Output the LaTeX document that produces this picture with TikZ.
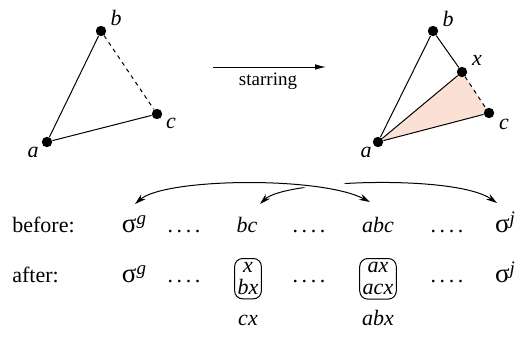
\documentclass[tikz,border=0pt]{standalone}
\usepackage{fontspec}
\setmainfont{Liberation Serif}
\usetikzlibrary{arrows.meta}
\definecolor{salmon}{RGB}{251,225,212}
\newcommand\sigsup[1]{{\fontsize{13.5}{14}\selectfont σ}\raisebox{4pt}{\fontsize{9.5}{10}\selectfont\itshape #1}}
\newcommand\fourdots{.\hspace{1.8pt}.\hspace{1.8pt}.\hspace{1.8pt}.}
\begin{document}
\begin{tikzpicture}[x=0.5pt,y=-0.5pt,
  dot/.style={circle,fill=black,inner sep=0pt,minimum size=5.2pt},
  lbl/.style={font=\fontsize{11}{13}\selectfont\itshape,inner sep=0pt},
  edge/.style={line width=0.5pt},
  dashededge/.style={line width=0.5pt,dash pattern=on 2pt off 2pt},
  txt/.style={font=\fontsize{11}{13}\selectfont,inner sep=0pt,anchor=base},
  itxt/.style={font=\fontsize{11}{13}\selectfont\itshape,inner sep=0pt,anchor=base},
  stackbox/.style={draw,rounded corners=4pt,line width=0.5pt,inner xsep=1.5pt,inner ysep=2pt,align=center,font=\fontsize{11}{11}\selectfont\itshape},
  dblarrow/.style={line width=0.5pt,{Stealth[length=5.5pt,width=3.2pt]}-{Stealth[length=5.5pt,width=3.2pt]}},
  mainarrow/.style={line width=0.5pt,-{Latex[length=5.5pt,width=2.8pt]}}
]
\useasboundingbox (0,0) rectangle (522,337);
% left triangle
\node[dot] (La) at (47,142) {};
\node[dot] (Lb) at (101,31) {};
\node[dot] (Lc) at (157,114) {};
\draw[edge] (La) -- (Lb);
\draw[edge] (La) -- (Lc);
\draw[dashededge] (Lb) -- (Lc);
\node[lbl] (La-l) at (33,152) {a};
\node[lbl] (Lb-l) at (116,18) {b};
\node[lbl] (Lc-l) at (171,123) {c};
% starring arrow
\coordinate (s1) at (213,67);
\coordinate (s2) at (326,67);
\draw[mainarrow] (s1) -- (s2);
\node[font=\fontsize{9.5}{11}\selectfont,inner sep=0pt] (starring) at (268,81) {starring};
% right triangle
\coordinate (ra) at (378,142);
\coordinate (rb) at (433,31);
\coordinate (rx) at (462,72);
\coordinate (rc) at (489,113);
\fill[salmon] (ra) -- (rx) -- (rc) -- cycle;
\node[dot] (Ra) at (ra) {};
\node[dot] (Rb) at (rb) {};
\node[dot] (Rx) at (rx) {};
\node[dot] (Rc) at (rc) {};
\draw[edge] (Ra) -- (Rb);
\draw[edge] (Rb) -- (Rx);
\draw[edge] (Ra) -- (Rx);
\draw[edge] (Ra) -- (Rc);
\draw[dashededge] (Rx) -- (Rc);
\node[lbl] (Ra-l) at (366,152) {a};
\node[lbl] (Rb-l) at (448,19) {b};
\node[lbl] (Rx-l) at (477,60) {x};
\node[lbl] (Rc-l) at (504,124) {c};
% before row
\node[txt,anchor=base west] (before) at (12,232) {before:};
\node[txt] (sgB) at (134,232) {\sigsup{g}};
\node[txt] (d1B) at (184,232) {\fourdots};
\node[itxt] (bc) at (247,232) {bc};
\node[txt] (d2B) at (309,232) {\fourdots};
\node[itxt] (abc) at (378,232) {abc};
\node[txt] (d3B) at (447,232) {\fourdots};
\node[txt] (sjB) at (505,232) {\sigsup{j}};
% after row
\node[txt,anchor=base west] (after) at (12,282) {after:};
\node[txt] (sgA) at (134,282) {\sigsup{g}};
\node[txt] (d1A) at (184,282) {\fourdots};
\node[stackbox,anchor=north] (box1) at (248,258) {x\\bx};
\node[txt] (d2A) at (309,282) {\fourdots};
\node[stackbox,anchor=north] (box2) at (378,258) {ax\\acx};
\node[txt] (d3A) at (447,282) {\fourdots};
\node[txt] (sjA) at (505,282) {\sigsup{j}};
\node[itxt] (cx) at (248,325) {cx};
\node[itxt] (abx) at (378,325) {abx};
% curved arrows
\coordinate (tSg) at (135,204);
\coordinate (tAbc) at (370,202);
\coordinate (tBc) at (260,204);
\coordinate (tSj) at (497,203);
\draw[dblarrow] (tBc) .. controls (285,180) and (455,174) .. (tSj);
\draw[white,line width=6pt,shorten <=65pt,shorten >=10pt] (tSg) .. controls (165,178) and (320,176) .. (tAbc);
\draw[dblarrow] (tSg) .. controls (165,178) and (320,176) .. (tAbc);
\end{tikzpicture}
\end{document}
